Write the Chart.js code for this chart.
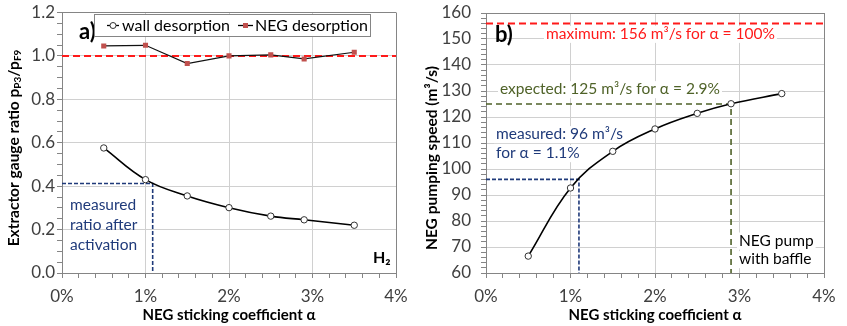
<!DOCTYPE html>
<html><head><meta charset="utf-8">
<script src="https://cdn.jsdelivr.net/npm/chart.js@4/dist/chart.umd.min.js"></script>
<style>
html,body{margin:0;padding:0;background:#fff;}
#wrap{position:relative;width:847px;height:326px;overflow:hidden;background:#fff;}
#c1{position:absolute;left:0;top:0;}
#c2{position:absolute;left:420px;top:0;}
</style></head><body>
<div id="wrap"><canvas id="c1" width="420" height="326"></canvas><canvas id="c2" width="427" height="326"></canvas></div>
<script>
// ---------- data ----------
const alphaPct = [0.5, 1.0, 1.5, 2.0, 2.5, 2.9, 3.5];
const wallDesorption = [0.576, 0.430, 0.355, 0.301, 0.262, 0.245, 0.220];
const negDesorption = [1.046, 1.049, 0.965, 1.000, 1.005, 0.986, 1.017];
const pumpingSpeed = [66.5, 92.7, 106.8, 115.4, 121.4, 125.1, 129.0];
const xTickLabels = ['0%', '1%', '2%', '3%', '4%'];
const ratioTickLabels = ['0.0', '0.2', '0.4', '0.6', '0.8', '1.0', '1.2'];
const speedTickLabels = ['60', '70', '80', '90', '100', '110', '120', '130', '140', '150', '160'];
const ratioReference = [1.0];
const measuredRatioAlpha = [1.086];
const measuredRatioValue = [0.412];
const maxSpeed = [156];
const expectedAlpha = [2.9];
const expectedSpeed = [125];
const measuredAlpha = [1.1];
const measuredSpeed = [96];

// ---------- styling ----------
const FONT = 'Lato, "Open Sans", sans-serif';
const TICK_COLOR = '#404040';
const GRID = '#d0d0d0';
const FRAME = '#858585';
const NAVY = '#1f3a7a';
const OLIVE = '#4f6228';
const RED = '#ff1a1a';
const NEG_RED = '#c0504d';
const NOTE_SIZE = 15.5;

function xy(xs, ys) { return xs.map((x, i) => ({x: x, y: ys[i]})); }
function near(v, t) { return Math.abs(v - t) < 1e-6; }

function xScale(title) {
  return {
    type: 'linear', min: 0, max: 4,
    afterFit: s => { s.height = 53; s.paddingLeft = 0; s.paddingRight = 0; },
    border: {color: FRAME, width: 1},
    grid: {
      color: c => { const v = c.tick ? c.tick.value : 0; if (near(v, 4)) return FRAME; return near(v, Math.round(v)) && !near(v,0) ? GRID : 'rgba(0,0,0,0)'; },
      tickColor: FRAME, tickLength: 5, drawTicks: true
    },
    ticks: {
      stepSize: 0.2, autoSkip: false, maxRotation: 0, padding: 8,
      color: TICK_COLOR, font: {family: FONT, size: 17},
      callback: v => near(v, Math.round(v)) ? xTickLabels[Math.round(v)] : ''
    },
    title: {display: true, text: title, color: '#000', font: {family: FONT, size: 15, weight: 'bold'}, padding: {top: 0, bottom: 2}}
  };
}

function yScale(min, max, step, majorEvery, labels, width, pad) {
  return {
    type: 'linear', min: min, max: max,
    afterFit: s => { s.width = width; s.paddingTop = 0; s.paddingBottom = 0; },
    border: {color: FRAME, width: 1},
    grid: {
      color: c => { const v = c.tick ? c.tick.value : 0; if (near(v, max)) return FRAME; const k = (v - min) / majorEvery; return near(k, Math.round(k)) && !near(v, min) ? GRID : 'rgba(0,0,0,0)'; },
      tickColor: FRAME, tickLength: 5
    },
    ticks: {
      stepSize: step, autoSkip: false, padding: pad,
      color: TICK_COLOR, font: {family: FONT, size: 17},
      callback: v => { const k = (v - min) / majorEvery; return near(k, Math.round(k)) ? labels[Math.round(k)] : ''; }
    }
  };
}

function refLine(data, color, dash, width, order) {
  return {type: 'line', data: data, borderColor: color, borderDash: dash, borderWidth: width,
          pointRadius: 0, fill: false, tension: 0, order: order};
}

// annotation / legend / rotated title plugin
function textPlugin(cfg) {
  return {
    id: 'texts' + Math.random().toString(36).slice(2),
    beforeDatasetsDraw(chart) {
      const ctx = chart.ctx;
      ctx.save();
      (cfg.texts || []).forEach(t => {
        ctx.font = (t.bold ? 'bold ' : '') + t.size + 'px ' + FONT;
        ctx.textBaseline = 'alphabetic';
        ctx.textAlign = 'left';
        if (t.bg) {
          const w = ctx.measureText(t.text).width;
          ctx.fillStyle = '#fff';
          ctx.fillRect(t.x - 2, t.y - t.size * 0.85, w + 4, t.size * 1.1);
        }
        ctx.fillStyle = t.color;
        ctx.fillText(t.text, t.x, t.y);
      });
      ctx.restore();
    },
    afterDatasetsDraw(chart) {
      const ctx = chart.ctx;
      ctx.save();
      if (cfg.legend) {
        const L = cfg.legend;
        ctx.fillStyle = '#fff';
        ctx.fillRect(L.x, L.y, L.w, L.h);
        ctx.strokeStyle = FRAME; ctx.lineWidth = 1;
        ctx.strokeRect(L.x + 0.5, L.y + 0.5, L.w, L.h);
        const cy = L.y + L.h / 2 + 0.5;
        L.items.forEach(it => {
          ctx.strokeStyle = '#000'; ctx.lineWidth = 1.3;
          ctx.beginPath(); ctx.moveTo(it.x0, cy); ctx.lineTo(it.x1, cy); ctx.stroke();
          const mx = (it.x0 + it.x1) / 2;
          if (it.marker === 'circle') {
            ctx.fillStyle = '#fff'; ctx.strokeStyle = '#333'; ctx.lineWidth = 1;
            ctx.beginPath(); ctx.arc(mx, cy, 3, 0, Math.PI * 2); ctx.fill(); ctx.stroke();
          } else {
            ctx.fillStyle = NEG_RED; ctx.fillRect(mx - 2.5, cy - 2.5, 5, 5);
          }
          ctx.fillStyle = '#000';
          ctx.font = '16px ' + FONT; ctx.textBaseline = 'alphabetic'; ctx.textAlign = 'left';
          ctx.fillText(it.label, it.tx, L.y + L.h / 2 + 6);
        });
      }
      ctx.restore();
    },
    afterDraw(chart) {
      const ctx = chart.ctx;
      if (!cfg.ytitle) return;
      const T = cfg.ytitle;
      ctx.save();
      ctx.translate(T.x, T.y);
      ctx.rotate(-Math.PI / 2);
      ctx.fillStyle = '#000';
      ctx.textBaseline = 'middle';
      let total = 0;
      T.parts.forEach(p => { ctx.font = 'bold ' + p.size + 'px ' + FONT; total += ctx.measureText(p.text).width; });
      let x = -total / 2;
      T.parts.forEach(p => {
        ctx.font = 'bold ' + p.size + 'px ' + FONT;
        ctx.fillText(p.text, x, (p.dy || 0));
        x += ctx.measureText(p.text).width;
      });
      ctx.restore();
    }
  };
}

// ---------- chart a ----------
new Chart(document.getElementById('c1'), {
  type: 'line',
  data: {
    datasets: [
      {label: 'wall desorption', data: xy(alphaPct, wallDesorption), borderColor: '#000', borderWidth: 1.6,
       tension: 0.4, pointStyle: 'circle', pointRadius: 3.2, pointBackgroundColor: '#fff', pointBorderColor: '#333', pointBorderWidth: 1, order: 0},
      {label: 'NEG desorption', data: xy(alphaPct, negDesorption), borderColor: '#111', borderWidth: 1.2,
       tension: 0, pointStyle: 'rect', pointRadius: 3.6, pointBackgroundColor: NEG_RED, pointBorderColor: NEG_RED, pointBorderWidth: 0, order: 1},
      refLine([{x: 0, y: ratioReference[0]}, {x: 4, y: ratioReference[0]}], RED, [7, 4], 2, 3),
      refLine([{x: 0, y: measuredRatioValue[0]}, {x: measuredRatioAlpha[0], y: measuredRatioValue[0]}, {x: measuredRatioAlpha[0], y: 0}], NAVY, [4, 2], 1.6, 4)
    ]
  },
  options: {
    responsive: false, animation: false, devicePixelRatio: 1,
    layout: {padding: {top: 12.5, right: 24, left: 0, bottom: 0}},
    plugins: {legend: {display: false}, tooltip: {enabled: false}},
    scales: {
      x: xScale('NEG sticking coefficient \u03b1'),
      y: yScale(0, 1.2, 0.05, 0.2, ratioTickLabels, 62, 2)
    }
  },
  plugins: [textPlugin({
    texts: [
      {text: 'a)', x: 79, y: 38.5, size: 22, bold: true, color: '#000'},
      {text: 'measured', x: 70, y: 210, size: NOTE_SIZE, color: NAVY},
      {text: 'ratio after', x: 70, y: 230, size: NOTE_SIZE, color: NAVY},
      {text: 'activation', x: 70, y: 250, size: NOTE_SIZE, color: NAVY},
      {text: 'H\u2082', x: 373, y: 263, size: 16, bold: true, color: '#000'}
    ],
    legend: {x: 94, y: 14, w: 276, h: 22, items: [
      {x0: 107, x1: 119, tx: 122, marker: 'circle', label: 'wall desorption'},
      {x0: 238, x1: 253, tx: 255, marker: 'rect', label: 'NEG desorption'}
    ]},
    ytitle: {x: 14, y: 148, parts: [
      {text: 'Extractor gauge ratio p', size: 15.5},
      {text: 'P3', size: 10, dy: 4},
      {text: '/p', size: 15.5},
      {text: 'F9', size: 10, dy: 4}
    ]}
  })]
});

// ---------- chart b ----------
new Chart(document.getElementById('c2'), {
  type: 'line',
  data: {
    datasets: [
      {label: 'NEG pumping speed', data: xy(alphaPct, pumpingSpeed), borderColor: '#000', borderWidth: 1.6,
       tension: 0.4, pointStyle: 'circle', pointRadius: 3.2, pointBackgroundColor: '#fff', pointBorderColor: '#333', pointBorderWidth: 1, order: 0},
      refLine([{x: 0, y: maxSpeed[0]}, {x: 4, y: maxSpeed[0]}], RED, [7, 4], 2, 3),
      refLine([{x: 0, y: expectedSpeed[0]}, {x: expectedAlpha[0], y: expectedSpeed[0]}, {x: expectedAlpha[0], y: 60}], OLIVE, [6, 4], 1.6, 4),
      refLine([{x: 0, y: measuredSpeed[0]}, {x: measuredAlpha[0], y: measuredSpeed[0]}, {x: measuredAlpha[0], y: 60}], NAVY, [4, 2], 1.6, 5)
    ]
  },
  options: {
    responsive: false, animation: false, devicePixelRatio: 1,
    layout: {padding: {top: 13, right: 23, left: 0, bottom: 0}},
    plugins: {legend: {display: false}, tooltip: {enabled: false}},
    scales: {
      x: xScale('NEG sticking coefficient \u03b1'),
      y: yScale(60, 160, 2, 10, speedTickLabels, 66, 10)
    }
  },
  plugins: [textPlugin({
    texts: [
      {text: 'b)', x: 75, y: 41.5, size: 22, bold: true, color: '#000'},
      {text: 'maximum: 156 m\u00b3/s for \u03b1 = 100%', x: 126, y: 39, size: NOTE_SIZE, color: RED, bg: true},
      {text: 'expected: 125 m\u00b3/s for \u03b1 = 2.9%', x: 80, y: 94.3, size: NOTE_SIZE, color: OLIVE, bg: true},
      {text: 'measured: 96 m\u00b3/s', x: 76, y: 139.3, size: NOTE_SIZE, color: NAVY, bg: true},
      {text: 'for \u03b1 = 1.1%', x: 76, y: 158.3, size: NOTE_SIZE, color: NAVY, bg: true},
      {text: 'NEG pump', x: 319, y: 245.7, size: NOTE_SIZE, color: '#000', bg: true},
      {text: 'with baffle', x: 319, y: 264.3, size: NOTE_SIZE, color: '#000', bg: true}
    ],
    ytitle: {x: 12, y: 158, parts: [
      {text: 'NEG pumping speed (m\u00b3/s)', size: 15.5}
    ]}
  })]
});
</script>
</body></html>
